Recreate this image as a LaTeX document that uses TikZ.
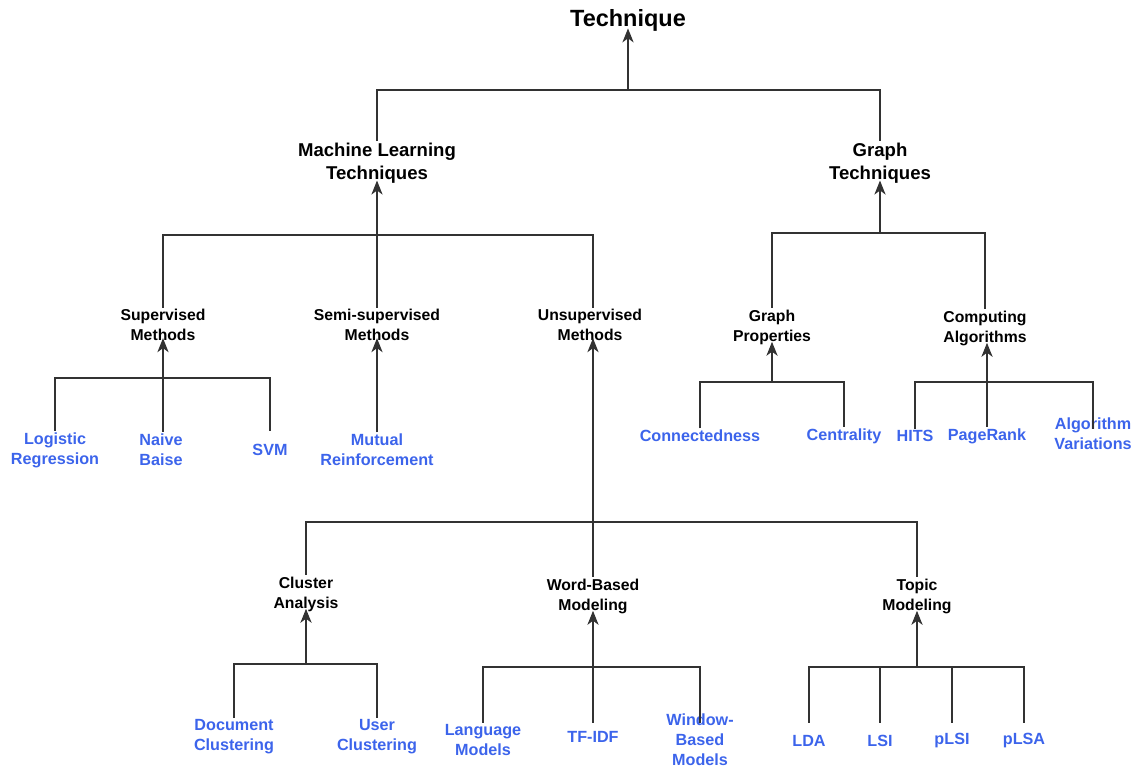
\documentclass[tikz,border=0pt]{standalone}
\usepackage{fontspec}
\setmainfont{Liberation Sans}
\usepackage{xcolor}
\usetikzlibrary{arrows.meta}

\definecolor{leafblue}{RGB}{60,100,235}
\definecolor{linegray}{RGB}{50,50,50}

\tikzset{
  every node/.style={align=center, inner sep=1pt},
  rootnode/.style={font=\fontsize{16.7}{20}\selectfont\bfseries},
  groupnode/.style={font=\fontsize{13.2}{16.3}\selectfont\bfseries},
  methodnode/.style={font=\fontsize{11.2}{14.2}\selectfont\bfseries},
  leafnode/.style={font=\fontsize{11.5}{14.2}\selectfont\bfseries, text=leafblue},
  link/.style={draw=linegray, line width=0.8pt},
  uparrow/.style={link, shorten >=-3pt, -{Stealth[length=10pt, width=8pt, inset=3pt]}}
}

\begin{document}
\begin{tikzpicture}[x=0.025cm, y=-0.025cm]
		\useasboundingbox (0,0) rectangle (1138,768);

		% top levels
		\node[rootnode]  (tech)  at (628, 20)  {Technique};
		\node[groupnode] (ml)    at (377, 163) {Machine Learning\\Techniques};
		\node[groupnode] (gt)    at (880, 163) {Graph\\Techniques};

		\node[methodnode] (sup)   at (163, 325) {Supervised\\Methods};
		\node[methodnode] (semi)  at (377, 325) {Semi-supervised\\Methods};
		\node[methodnode] (unsup) at (590, 325) {Unsupervised\\Methods};
		\node[methodnode] (gprop) at (772, 327) {Graph\\Properties};
		\node[methodnode] (calg)  at (985, 328) {Computing\\Algorithms};

		\node[methodnode] (clus)  at (306, 594) {Cluster\\Analysis};
		\node[methodnode] (wbm)   at (593, 596) {Word-Based\\Modeling};
		\node[methodnode] (topic) at (917, 596) {Topic\\Modeling};

		% leaves
		\node[leafnode] (logreg) at (55,  450) {Logistic\\Regression};
		\node[leafnode] (nb)     at (161, 450) {Naive\\Baise};
		\node[leafnode] (svm)    at (270, 450) {SVM};
		\node[leafnode] (mutual) at (377, 450) {Mutual\\Reinforcement};

		\node[leafnode] (connd)  at (700, 436) {Connectedness};
		\node[leafnode] (cent)   at (844, 436) {Centrality};
		\node[leafnode] (hits)   at (915, 436) {HITS};
		\node[leafnode] (prank)  at (987, 436) {PageRank};
		\node[leafnode] (algv)   at (1093,434) {Algorithm\\Variations};

		\node[leafnode] (doc)    at (234, 737) {Document\\Clustering};
		\node[leafnode] (user)   at (377, 737) {User\\Clustering};
		\node[leafnode] (lang)   at (483, 740) {Language\\Models};
		\node[leafnode] (tfidf)  at (593, 737) {TF-IDF};
		\node[leafnode] (win)    at (700, 740) {Window-\\Based\\Models};
		\node[leafnode] (lda)    at (809, 741) {LDA};
		\node[leafnode] (lsi)    at (880, 741) {LSI};
		\node[leafnode] (plsi)   at (952, 741) {pLSI};
		\node[leafnode] (plsa)   at (1024,741) {pLSA};

		% junctions
		\coordinate (jT)   at (628, 90);
		\coordinate (jML)  at (377, 235);
		\coordinate (jGT)  at (880, 233);
		\coordinate (jSup) at (163, 378);
		\coordinate (jUn)  at (593, 522);
		\coordinate (jGP)  at (772, 382);
		\coordinate (jCA)  at (987, 382);
		\coordinate (jCl)  at (306, 664);
		\coordinate (jWB)  at (593, 667);
		\coordinate (jTop) at (917, 667);

		% Technique
		\draw[uparrow] (jT) -- (jT |- tech.south);
		\draw[link] (ml.north) |- (jT) -| (gt.north);

		% Machine Learning
		\draw[uparrow] (jML) -- (jML |- ml.south);
		\draw[link] (sup.north) |- (jML) -| (jUn |- unsup.north);
		\draw[link] (jML) -- (jML |- semi.north);

		% Graph
		\draw[uparrow] (jGT) -- (jGT |- gt.south);
		\draw[link] (gprop.north) |- (jGT) -| (calg.north);

		% Supervised
		\draw[uparrow] (jSup) -- (jSup |- sup.south);
		\draw[link] (logreg.north) |- (jSup) -| (svm.north |- logreg.north);
		\draw[link] (jSup) -- (jSup |- nb.north);

		% Semi-supervised
		\draw[uparrow] (mutual.north) -- (semi.south);

		% Unsupervised
		\draw[uparrow] (jUn) -- (jUn |- unsup.south);
		\draw[link] (clus.north) |- (jUn) -| (topic.north);
		\draw[link] (jUn) -- (wbm.north);

		% Graph properties
		\draw[uparrow] (jGP) -- (jGP |- gprop.south);
		\draw[link] (connd.north) |- (jGP) -| (cent.north);

		% Computing algorithms
		\draw[uparrow] (jCA) -- (jCA |- calg.south);
		\draw[link] (hits.north) |- (jCA) -| (algv.north |- hits.north);
		\draw[link] (jCA) -- (prank.north);

		% Cluster analysis
		\draw[uparrow] (jCl) -- (jCl |- clus.south);
		\draw[link] (doc.north) |- (jCl) -| (user.north);

		% Word-based modeling
		\draw[uparrow] (jWB) -- (jWB |- wbm.south);
		\draw[link] (lang.north) |- (jWB) -| (win.north |- lang.north);
		\draw[link] (jWB) -- (tfidf.north |- lang.north);

		% Topic modeling
		\draw[uparrow] (jTop) -- (jTop |- topic.south);
		\draw[link] (lda.north |- lang.north) |- (jTop) -| (plsa.north |- lang.north);
		\draw[link] (lsi.north |- lang.north) -- (lsi.north |- jTop);
		\draw[link] (plsi.north |- lang.north) -- (plsi.north |- jTop);
	\end{tikzpicture}
\end{document}
